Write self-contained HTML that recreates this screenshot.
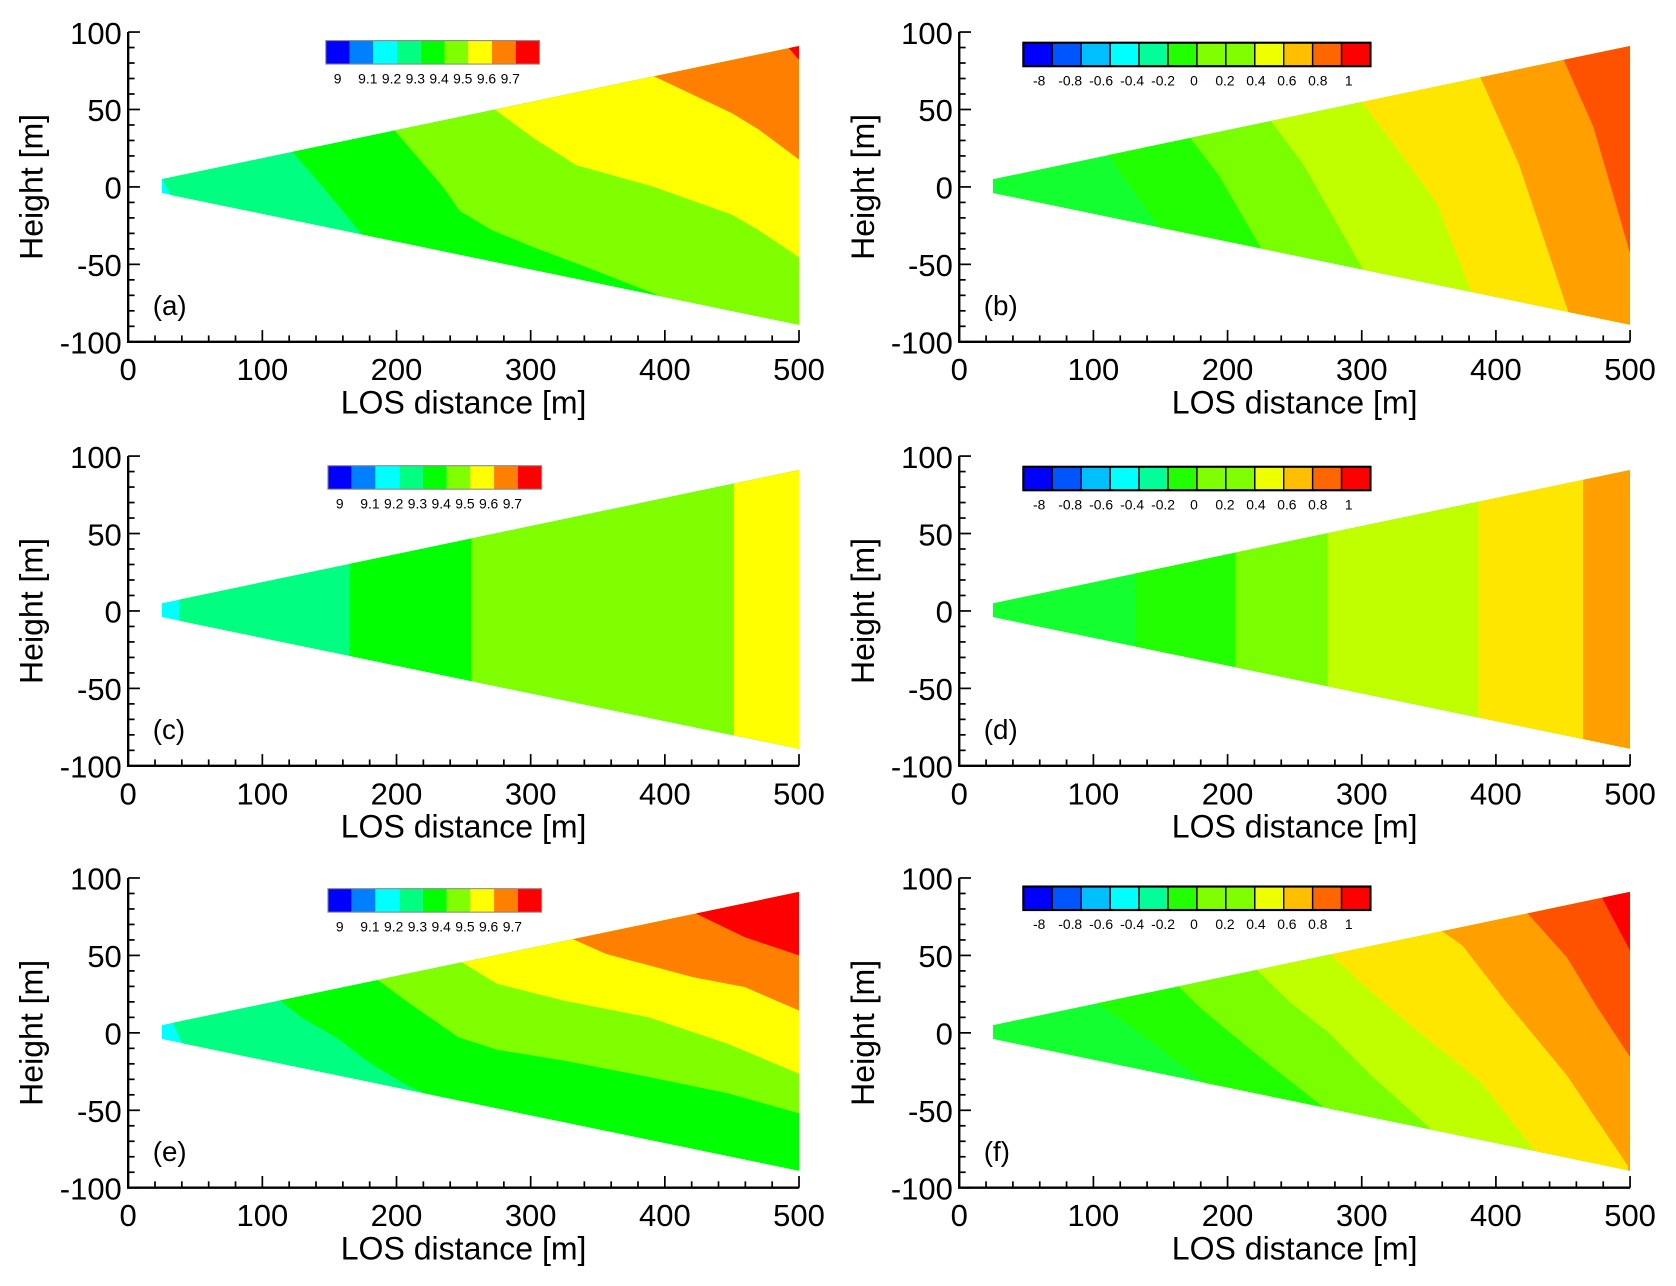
<!DOCTYPE html>
<html><head><meta charset="utf-8"><style>
html,body{margin:0;padding:0;background:#fff;}
svg{display:block;font-family:"Liberation Sans",sans-serif;}
</style></head>
<body>
<svg id="fig" width="1676" height="1286" viewBox="0 0 1569 1204" preserveAspectRatio="none" xmlns="http://www.w3.org/2000/svg"></svg>
<script>
// ---- data ----
const xTicks = [0,100,200,300,400,500];
const yTicks = [-100,-50,0,50,100];
const wedgeTop = [[25,5],[500,91]];
const wedgeBottom = [[25,-4],[500,-89]];
const cbLabelsA = ["9","9.1","9.2","9.3","9.4","9.5","9.6","9.7"];
const cbColorsA = ["#0000ff","#0080ff","#00ffff","#00ff80","#00ff00","#80ff00","#ffff00","#ff8000","#ff0000"];
const cbLabelsB = ["-8","-0.8","-0.6","-0.4","-0.2","0","0.2","0.4","0.6","0.8","1"];
const cbColorsB = ["#0000ff","#0055ff","#00bfff","#00ffff","#00ff99","#22ff00","#80ff00","#80ff00","#eeff00","#ffbf00","#ff6600","#ff0000"];

// panel (a)
const colorsA = ["#00ffff","#00ff80","#00ff00","#80ff00","#ffff00","#ff8000","#ff0000"];
const boundsA = [
 [[25,6],[33,-8]],
 [[119,26],[145,0],[183,-40]],
 [[197,38],[235,-0.5],[247,-15.5],[271,-28],[302,-39],[342,-52],[398,-71],[420,-150]],
 [[270,52],[302,31.5],[334,14],[390,0.5],[450,-18],[470,-28],[500,-45.5],[560,-56]],
 [[388,73],[450,47.6],[470,37],[500,17.6],[560,5]],
 [[490,92],[500,82],[560,70]]
];
// panel (b)
const colorsB = ["#14ff30","#22ff00","#7aff00","#c0ff00","#ffe600","#ffa000","#ff5200"];
const boundsB = [
 [[110,22],[152,-30]],
 [[170,34],[194,6.7],[226.5,-42]],
 [[230,45],[256,15],[302.6,-56]],
 [[297,58],[323.6,28],[356,-10.5],[383.5,-72]],
 [[386.7,74],[417,15],[456,-86]],
 [[449,85],[472.5,39],[482,11],[500,-43],[560,-60]]
];
// panel (c)
const colorsC = ["#00ffff","#00ff80","#00ff00","#80ff00","#ffff00"];
const boundsC = [
 [[38,20],[38,-20]],
 [[165,40],[165,-40]],
 [[255.7,60],[255.7,-60]],
 [[451.5,95],[451.5,-95]]
];
// panel (d)
const colorsD = ["#14ff30","#22ff00","#7aff00","#c0ff00","#ffe600","#ffa000"];
const boundsD = [
 [[131,30],[131,-30]],
 [[206,45],[206,-45]],
 [[274.6,60],[274.6,-60]],
 [[387,80],[387,-80]],
 [[465,95],[465,-95]]
];
// panel (e)
const colorsE = ["#00ffff","#00ff80","#00ff00","#80ff00","#ffff00","#ff8000","#ff0000"];
const boundsE = [
 [[33,7],[42,-10]],
 [[111.6,22],[129,10],[155,-3],[181,-20],[210,-35],[243,-47]],
 [[184.5,35],[210,18.7],[246,-2.8],[275,-11],[323.6,-17.8],[388,-28.6],[446.6,-39],[500,-52],[560,-60]],
 [[247.6,46],[275,31.6],[323.6,21],[388,10],[446.6,-7],[500,-26.4],[560,-40]],
 [[330,61],[356,51],[420.7,36],[459.6,29.5],[500,14.4],[560,5]],
 [[420.7,78],[459.6,61.7],[500,50],[560,40]]
];
// panel (f)
const colorsF = ["#14ff30","#22ff00","#7aff00","#c0ff00","#ffe600","#ffa000","#ff5200","#ff0000"];
const boundsF = [
 [[102,20],[136,-1],[191,-38]],
 [[162,31],[181,15],[220,-13],[281.5,-55]],
 [[220,42],[246,20],[275,0.3],[307,-27.6],[359,-68]],
 [[275,52],[304,28.8],[336.5,5],[388,-31],[433.6,-81]],
 [[357.6,67],[375,56.4],[407.8,19.8],[453,-27.6],[498.4,-86],[500,-150]],
 [[420.7,80],[453,48.6],[475.7,16.3],[500,-15.7],[560,-30]],
 [[477.4,90],[500,53],[560,40]]
];

const NS = "http://www.w3.org/2000/svg";
const svg = document.getElementById("fig");
function mk(tag, attrs, parent){
  const e = document.createElementNS(NS, tag);
  for (const k in attrs) e.setAttribute(k, attrs[k]);
  (parent||svg).appendChild(e);
  return e;
}
const cols = [[120,748],[898,1526]];
const rows = [[30,320],[427,717],[822,1112]];
const panels = [
 {id:"a", col:0,row:0,colors:colorsA,bounds:boundsA,cb:"A",cbx:305,cby:38},
 {id:"b", col:1,row:0,colors:colorsB,bounds:boundsB,cb:"B",cbx:958,cby:40},
 {id:"c", col:0,row:1,colors:colorsC,bounds:boundsC,cb:"A",cbx:307,cby:436},
 {id:"d", col:1,row:1,colors:colorsD,bounds:boundsD,cb:"B",cbx:958,cby:437},
 {id:"e", col:0,row:2,colors:colorsE,bounds:boundsE,cb:"A",cbx:307,cby:832},
 {id:"f", col:1,row:2,colors:colorsF,bounds:boundsF,cb:"B",cbx:958,cby:830}
];

panels.forEach(p=>{
  const [x0,x1] = cols[p.col], [yt,yb] = rows[p.row];
  const sx = v => x0 + (v/500)*(x1-x0);
  const sy = v => yb - ((v+100)/200)*(yb-yt);
  const g = mk("g",{});
  
  
  const cp = mk("clipPath",{id:"clip"+p.id},g);
  const wpts = [wedgeTop[0],wedgeTop[1],wedgeBottom[1],wedgeBottom[0]].map(q=>sx(q[0])+","+sy(q[1])).join(" ");
  mk("polygon",{points:wpts},cp);
  const cg = mk("g",{"clip-path":"url(#clip"+p.id+")"},g);
  const base = mk("polygon",{points:wpts,fill:p.colors[0]},cg);
  
  
  p.bounds.forEach((b,i)=>{
    const first=b[0], last=b[b.length-1];
    const pts=[[first[0],150]].concat(b);
    if (last[0] < 500) { pts.push([last[0],-150]); pts.push([600,-150]); }
    else { pts.push([600,last[1]]); }
    pts.push([600,150]);
    const poly = mk("polygon",{points:pts.map(q=>sx(q[0])+","+sy(q[1])).join(" "),fill:p.colors[i+1]},cg);
    
    
  });
  const ax = mk("path",{d:`M${x0},${yt} L${x0},${yb} L${x1},${yb}`,stroke:"#000","stroke-width":2.2,fill:"none"},g);
  
  
  for(let v=0; v<=500; v+=20){
    const major = v%100===0;
    mk("line",{x1:sx(v),x2:sx(v),y1:yb,y2:yb-(major?11:6),stroke:"#000","stroke-width":1.6},g);
  }
  for(let v=-100; v<=100; v+=10){
    const major = v%50===0;
    mk("line",{x1:x0,x2:x0+(major?11:6),y1:sy(v),y2:sy(v),stroke:"#000","stroke-width":1.6},g);
  }
  xTicks.forEach(v=>{
    const t = mk("text",{x:sx(v),y:yb+36,"font-size":29,"text-anchor":"middle"},g);
    t.textContent=v;
    
    
  });
  yTicks.forEach(v=>{
    const t = mk("text",{x:x0-6,y:sy(v)+11,"font-size":29,"text-anchor":"end"},g);
    t.textContent=v;
    
    
  });
  const xt = mk("text",{x:(x0+x1)/2,y:yb+67,"font-size":30,"text-anchor":"middle"},g);
  xt.textContent="LOS distance [m]";
  
  
  const yc=(yt+yb)/2, yx=x0-80;
  const ytl = mk("text",{x:yx,y:yc,"font-size":30,"text-anchor":"middle",transform:`rotate(-90 ${yx} ${yc})`},g);
  ytl.textContent="Height [m]";
  
  
  const pl = mk("text",{x:x0+23,y:yb-25,"font-size":26},g);
  pl.textContent="("+p.id+")";
  
  
  const cbg = mk("g",{},g);
  
  
  const colors = p.cb==="A"?cbColorsA:cbColorsB;
  const labels = p.cb==="A"?cbLabelsA:cbLabelsB;
  const w = p.cb==="A"?200:325, h=22, cw=w/colors.length;
  colors.forEach((c,i)=>{
    mk("rect",{x:p.cbx+i*cw,y:p.cby,width:cw,height:h,fill:c,stroke:p.cb==="B"?"#000":"none","stroke-width":p.cb==="B"?1.3:0},cbg);
  });
  mk("rect",{x:p.cbx,y:p.cby,width:w,height:h,fill:"none",stroke:p.cb==="B"?"#000":"#888","stroke-width":p.cb==="B"?2:1},cbg);
  labels.forEach((l,i)=>{
    const cx = p.cb==="A" ? p.cbx+(i+0.5)*cw+ (i>0?6:0) : p.cbx+cw*0.55+i*cw*1.07;
    const t = mk("text",{x:cx,y:p.cby+h+18,"font-size":13,"text-anchor":"middle"},cbg);
    t.textContent=l;
  });
});
</script>
</body></html>
